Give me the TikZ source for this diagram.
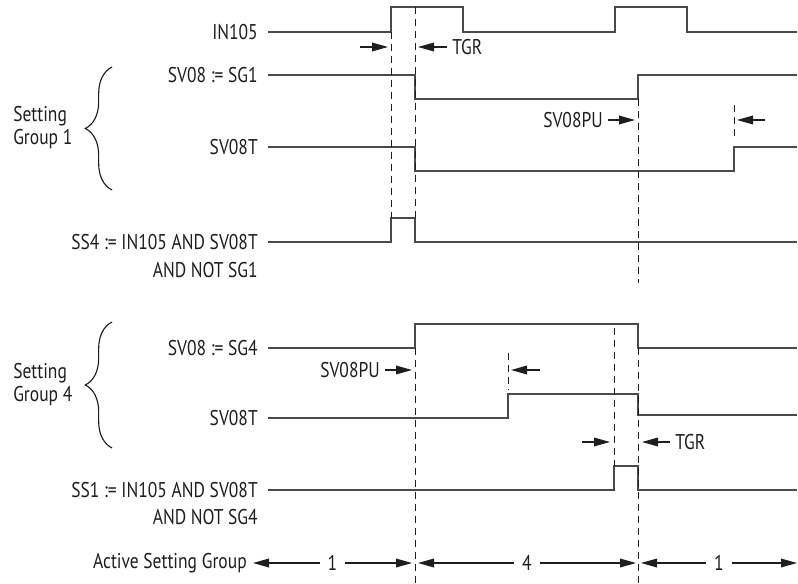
\documentclass[tikz,border=0pt]{standalone}
\usepackage{fontspec}
\setmainfont{PT Sans}[FakeStretch=0.82]
\usepackage{tikz}
\usetikzlibrary{arrows.meta,decorations.pathreplacing,positioning}
\definecolor{waveink}{HTML}{4A4A4A}
\definecolor{textink}{HTML}{1E1E1E}

\tikzset{
  wave/.style={draw=waveink, line width=1.1pt},
  guide/.style={draw=textink, line width=0.75pt, dash pattern=on 5.5pt off 3.5pt},
  dim/.style={draw=textink, line width=0.9pt, -{Triangle[length=12pt,width=6.5pt]}},
  span/.style={draw=textink, line width=0.9pt, {Triangle[length=12pt,width=6.5pt]}-{Triangle[length=12pt,width=6.5pt]}},
  lbl/.style={inner sep=0pt, text=textink, font=\fontsize{16}{19}\selectfont},
  grp/.style={draw=textink, line width=0.85pt, decorate, decoration={brace, amplitude=20pt}}
}

\begin{document}
\begin{tikzpicture}[x=0.75pt,y=-0.75pt]
  \useasboundingbox (0,0) rectangle (798,584);
  % signal names
  \node[lbl, anchor=east] (in105) at (258,32) {IN105};
  \node[lbl, anchor=east] (sgone) at (258,75) {SV08 := SG1};
  \node[lbl, anchor=east] (svtone) at (258,147) {SV08T};
  \node[lbl, anchor=east] (ssfour) at (258,242) {SS4 := IN105 AND SV08T};
  \node[lbl, anchor=east] (ssfourb) at (258,270) {AND NOT SG1};
  \node[lbl, anchor=east] (sgfour) at (258,348) {SV08 := SG4};
  \node[lbl, anchor=east] (svtfour) at (258,418) {SV08T};
  \node[lbl, anchor=east] (ssone) at (258,490) {SS1 := IN105 AND SV08T};
  \node[lbl, anchor=east] (ssoneb) at (258,517) {AND NOT SG4};
  \node[lbl, anchor=east] (active) at (247,563) {Active Setting Group};
  % setting groups
  \node[lbl, anchor=west, align=left, font=\fontsize{16}{17.25}\selectfont] (grpone) at (13,128) {Setting\\Group 1};
  \node[lbl, anchor=west, align=left, font=\fontsize{16}{17.25}\selectfont] (grpfour) at (13,385) {Setting\\Group 4};
  \draw[grp] (112,190) -- (112,67);
  \draw[grp] (112,448) -- (112,322);
  % waveforms
  \draw[wave] ([xshift=7.5pt]in105.east) -- (391,32) |- (463,7) |- (615,32) |- (687,7) |- (797,32);
  \draw[wave] ([xshift=7.5pt]sgone.east) -- (415,75) |- (638,99) |- (797,75);
  \draw[wave] ([xshift=7.5pt]svtone.east) -- (415,147) |- (734,171) |- (797,147);
  \draw[wave] ([xshift=7.5pt]ssfour.east) -- (391,242) |- (415,218) |- (797,242);
  \draw[wave] ([xshift=7.5pt]sgfour.east) -- (415,348) |- (638,324) |- (797,348);
  \draw[wave] ([xshift=7.5pt]svtfour.east) -- (508,418) |- (638,394) |- (797,415);
  \draw[wave] ([xshift=7.5pt]ssone.east) -- (614,490) |- (638,466) |- (797,490);
  % timing guides
  \foreach \x/\ya/\yb in {391/32/218, 415/7/218, 638/99/283, 734/105/140,
                          415/348/584, 638/348/584, 508/353/390, 614/328/466}
    \draw[guide] (\x,\ya) -- (\x,\yb);
  % delays
  \node[lbl, anchor=west] (tgrone) at (452,47) {TGR};
  \draw[dim] (360,47) -- (388,47);
  \draw[dim] ([xshift=-3.5pt]tgrone.west) -- (418,47);
  \node[lbl, anchor=east] (puone) at (603,120) {SV08PU};
  \draw[dim] ([xshift=4pt]puone.east) -- (635,120);
  \draw[dim] (765,120) -- (737,120);
  \node[lbl, anchor=east] (pufour) at (380,370) {SV08PU};
  \draw[dim] ([xshift=4pt]pufour.east) -- (412,370);
  \draw[dim] (540,370) -- (511,370);
  \node[lbl, anchor=west] (tgrfour) at (675,442) {TGR};
  \draw[dim] (582,442) -- (610,442);
  \draw[dim] ([xshift=-4pt]tgrfour.west) -- (642,442);
  % active group
  \draw[span] ([xshift=4.5pt]active.east) -- node[lbl, fill=white, inner xsep=6pt] (agone) {1} (412,563);
  \draw[span] (418,563) -- node[lbl, fill=white, inner xsep=6pt] (agfour) {4} (636,563);
  \draw[span] (641,563) -- node[lbl, fill=white, inner xsep=6pt] (agback) {1} (797,563);
\end{tikzpicture}
\end{document}
